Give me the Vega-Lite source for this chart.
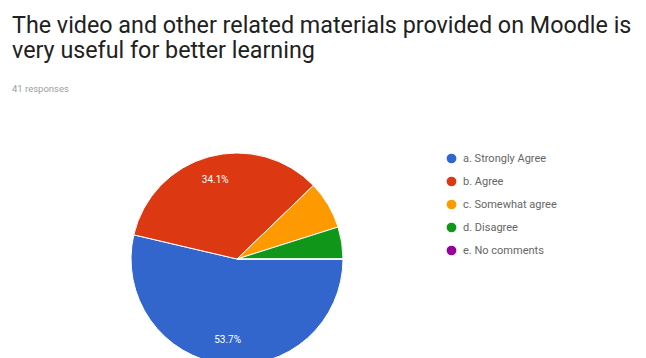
{
  "$schema": "https://vega.github.io/schema/vega-lite/v6.json",
  "autosize": {"type": "none"},
  "padding": {"top": 95, "left": 12, "right": 184, "bottom": 0},
  "width": 450,
  "height": 328,
  "background": "white",
  "title": {
    "text": ["The video and other related materials provided on Moodle is", "very useful for better learning"],
    "subtitle": "41 responses",
    "anchor": "start",
    "font": "Roboto",
    "fontSize": 23.3,
    "fontWeight": "normal",
    "color": "#212121",
    "lineHeight": 25,
    "subtitleFont": "Roboto",
    "subtitleFontSize": 9.5,
    "subtitleColor": "#9e9e9e",
    "subtitlePadding": 20,
    "offset": 1
  },
  "data": {
    "values": [
      {"answer": "a. Strongly Agree", "count": 22, "pct": 0.537},
      {"answer": "b. Agree", "count": 14, "pct": 0.341},
      {"answer": "c. Somewhat agree", "count": 3, "pct": 0.073},
      {"answer": "d. Disagree", "count": 2, "pct": 0.049},
      {"answer": "e. No comments", "count": 0, "pct": 0}
    ]
  },
  "encoding": {
    "theta": {"field": "count", "type": "quantitative", "stack": true, "scale": {"range": [1.5708, 7.854]}},
    "color": {
      "field": "answer",
      "type": "nominal",
      "sort": ["a. Strongly Agree", "b. Agree", "c. Somewhat agree", "d. Disagree", "e. No comments"],
      "scale": {
        "domain": ["a. Strongly Agree", "b. Agree", "c. Somewhat agree", "d. Disagree", "e. No comments"],
        "range": ["#3366cc", "#dc3912", "#ff9900", "#109618", "#990099"]
      },
      "legend": {
        "title": null,
        "orient": "none",
        "legendX": 434,
        "legendY": 58,
        "symbolType": "circle",
        "symbolSize": 95,
        "symbolStrokeWidth": 0,
        "labelFont": "Roboto",
        "labelFontSize": 11,
        "labelColor": "#666666",
        "rowPadding": 11,
        "labelOffset": 6
      }
    },
    "order": {"field": "answer", "sort": "ascending"}
  },
  "layer": [
    {
      "mark": {"type": "arc", "outerRadius": 106, "stroke": "white", "strokeWidth": 1}
    },
    {
      "mark": {"type": "text", "radius": 82, "font": "Roboto", "fontSize": 10, "fill": "white"},
      "encoding": {
        "text": {
          "condition": {"test": "datum.pct > 0.1", "field": "pct", "type": "quantitative", "format": ".1%"},
          "value": ""
        },
        "color": {"value": "white"}
      }
    }
  ]
}
